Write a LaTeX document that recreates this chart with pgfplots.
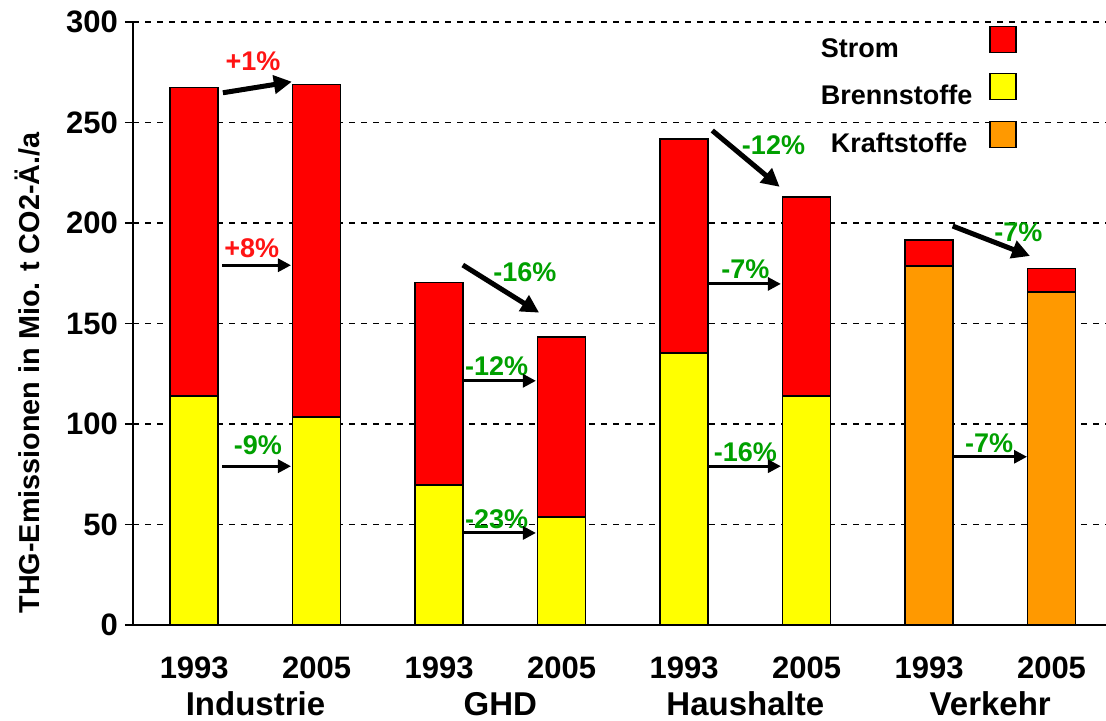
\documentclass[border=0pt]{standalone}
\usepackage{pgfplots}
\pgfplotsset{compat=1.18}
\usepackage{fontspec}
\setmainfont{Liberation Sans}
\usetikzlibrary{arrows.meta}
\definecolor{strom}{RGB}{255,0,0}
\definecolor{brenn}{RGB}{255,255,0}
\definecolor{kraft}{RGB}{255,153,0}
\definecolor{pgreen}{RGB}{0,160,0}
\definecolor{pred}{RGB}{255,20,20}
\pgfplotsset{sqlegend/.style={legend image code/.code={\draw[##1] (0pt,-1.6pt) rectangle (13pt,11.4pt);}}}
\begin{document}
\begin{tikzpicture}
\begin{axis}[
  at={(0,0)}, anchor=south west, scale only axis,
  width=486.5pt, height=301.5pt,
  xmin=-0.5, xmax=7.445, ymin=0, ymax=300,
  ybar stacked, bar width=24pt,
  clip=false,
  axis x line*=bottom, axis y line*=left,
  axis line style={black, line width=0.75pt},
  tick align=outside,
  tick style={black, line width=0.75pt},
  xtick={0,...,7},
  xticklabels={1993,2005,1993,2005,1993,2005,1993,2005},
  x tick style={draw=none},
  extra x ticks={-0.5,0.5,1.5,2.5,3.5,4.5,5.5,6.5},
  extra x tick labels={},
  extra x tick style={tick style={draw=black, line width=0.75pt}, major tick length=9pt},
  ytick={0,50,...,300},
  major tick length=4pt,
  ymajorgrids,
  major grid style={black, line width=0.75pt, dash pattern=on 3pt off 3pt},
  /pgf/number format/assume math mode=true,
  ticklabel style={font=\fontsize{15.5}{18}\selectfont\bfseries},
  xticklabel style={anchor=base, yshift=-22.5pt},
  ylabel={THG-Emissionen in Mio. t CO2-Ä./a},
  ylabel style={at={(axis description cs:-0.108,0.418)}, anchor=center, font=\fontsize{14.4}{16}\selectfont\bfseries},
  legend style={at={(0.9147,1.001)}, anchor=north east, draw=none, fill=none,
    font=\fontsize{13.5}{16}\selectfont\bfseries, row sep=6.5pt, column sep=8.5pt,
    nodes={inner sep=0pt}},
  legend cell align=left,
  legend plot pos=right,
]
\addlegendimage{sqlegend, fill=strom, draw=black, line width=0.6pt}
\addlegendentry{Strom}
\addlegendimage{sqlegend, fill=brenn, draw=black, line width=0.6pt}
\addlegendentry{Brennstoffe}
\addlegendimage{sqlegend, fill=kraft, draw=black, line width=0.6pt}
\addlegendentry{\hspace*{5pt}Kraftstoffe}

\addplot[fill=brenn, draw=black, line width=0.75pt] coordinates {(0,114) (1,103.5) (2,69.7) (3,53.7) (4,135.3) (5,114) (6,0) (7,0)};
\addplot[fill=kraft, draw=black, line width=0.75pt] coordinates {(0,0) (1,0) (2,0) (3,0) (4,0) (5,0) (6,178.6) (7,165.7)};
\addplot[fill=strom, draw=black, line width=0.75pt] coordinates {(0,153.5) (1,165.5) (2,100.8) (3,89.6) (4,106.5) (5,99) (6,12.9) (7,11.6)};

% category labels
\tikzset{cat/.style={anchor=base, font=\fontsize{16.5}{18}\selectfont\bfseries, yshift=-45pt}}
\node[cat] at (axis cs:0.5,0) {Industrie};
\node[cat] at (axis cs:2.5,0) {GHD};
\node[cat] at (axis cs:4.5,0) {Haushalte};
\node[cat] at (axis cs:6.5,0) {Verkehr};

% arrows
\draw[line width=2.5pt, -{Triangle[length=9pt,width=9pt]}] (axis cs:0.234,264.8) -- (axis cs:0.797,270.3);
\draw[line width=2.5pt, -{Triangle[length=9pt,width=9pt]}] (axis cs:2.193,179.1) -- (axis cs:2.816,155.4);
\draw[line width=2.5pt, -{Triangle[length=9pt,width=9pt]}] (axis cs:4.23,246) -- (axis cs:4.78,218);
\draw[line width=2.5pt, -{Triangle[length=9pt,width=9pt]}] (axis cs:6.193,198.5) -- (axis cs:6.824,183.6);

\draw[line width=1.5pt, -{Triangle[length=6.5pt,width=6.5pt]}] (axis cs:0.23,179) -- (axis cs:0.79,179);
\draw[line width=1.5pt, -{Triangle[length=6.5pt,width=6.5pt]}] (axis cs:0.23,79) -- (axis cs:0.79,79);
\draw[line width=1.5pt, -{Triangle[length=6.5pt,width=6.5pt]}] (axis cs:2.2,121.5) -- (axis cs:2.79,121.5);
\draw[line width=1.5pt, -{Triangle[length=6.5pt,width=6.5pt]}] (axis cs:2.2,45.8) -- (axis cs:2.79,45.8);
\draw[line width=1.5pt, -{Triangle[length=6.5pt,width=6.5pt]}] (axis cs:4.2,169.7) -- (axis cs:4.79,169.7);
\draw[line width=1.5pt, -{Triangle[length=6.5pt,width=6.5pt]}] (axis cs:4.2,79) -- (axis cs:4.79,79);
\draw[line width=1.5pt, -{Triangle[length=6.5pt,width=6.5pt]}] (axis cs:6.2,83.7) -- (axis cs:6.8,83.7);

% percentages
\tikzset{pct/.style={font=\fontsize{13.5}{15}\selectfont\bfseries, inner sep=0pt}}
\node[pct, text=pred] at (axis cs:0.48,280.7) {+1\%};
\node[pct, text=pred] at (axis cs:0.47,187.6) {+8\%};
\node[pct, text=pgreen] at (axis cs:0.52,89.6) {-9\%};
\node[pct, text=pgreen] at (axis cs:2.70,175.6) {-16\%};
\node[pct, text=pgreen] at (axis cs:2.47,128.9) {-12\%};
\node[pct, text=pgreen] at (axis cs:2.47,52.7) {-23\%};
\node[pct, text=pgreen] at (axis cs:4.73,238.8) {-12\%};
\node[pct, text=pgreen] at (axis cs:4.50,177) {-7\%};
\node[pct, text=pgreen] at (axis cs:4.50,86) {-16\%};
\node[pct, text=pgreen] at (axis cs:6.73,195.5) {-7\%};
\node[pct, text=pgreen] at (axis cs:6.49,90.5) {-7\%};
\end{axis}
\pgfresetboundingbox
\path (-66.5pt,-47.5pt) rectangle (486.5pt,312.5pt);
\end{tikzpicture}
\end{document}
